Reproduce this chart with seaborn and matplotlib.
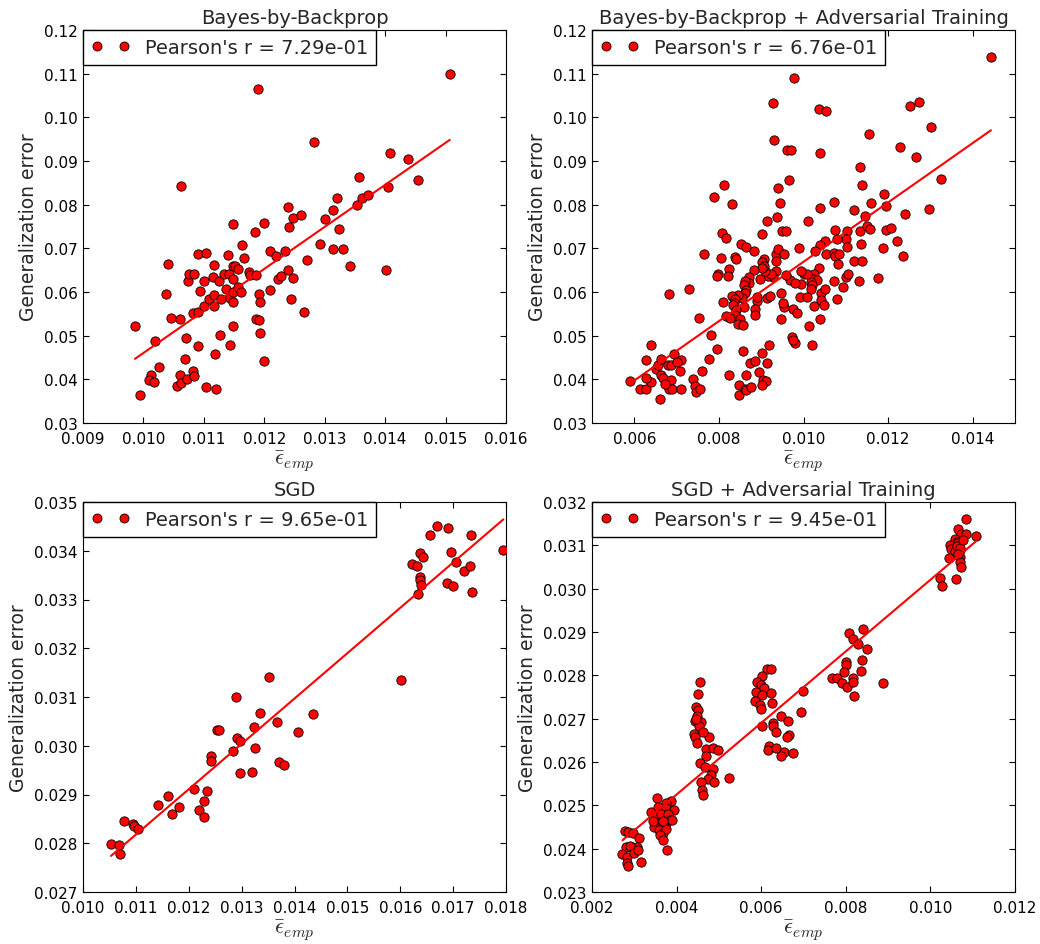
import numpy as np
import pandas as pd
import matplotlib
matplotlib.use("Agg")
import matplotlib.pyplot as plt
from matplotlib.lines import Line2D
from matplotlib.ticker import MultipleLocator, FormatStrFormatter
import seaborn as sns

# ---------------- data ----------------
titles = ["Bayes-by-Backprop", "Bayes-by-Backprop + Adversarial Training",
          "SGD", "SGD + Adversarial Training"]
pearson_labels = ["Pearson's r = 7.29e-01", "Pearson's r = 6.76e-01",
                  "Pearson's r = 9.65e-01", "Pearson's r = 9.45e-01"]

bbb_points = [
    (0.00986, 0.0523), (0.00994, 0.0363), (0.01019, 0.0487), (0.01012, 0.0411), (0.01010, 0.0399),
    (0.01017, 0.0394), (0.01025, 0.0428), (0.01038, 0.0596), (0.01041, 0.0664), (0.01045, 0.0541),
    (0.01061, 0.0539), (0.01062, 0.0842), (0.01056, 0.0384), (0.01061, 0.0409), (0.01063, 0.0392),
    (0.01069, 0.0447), (0.01070, 0.0495), (0.01072, 0.0401), (0.01073, 0.0625), (0.01075, 0.0641),
    (0.01082, 0.0419), (0.01083, 0.0407), (0.01082, 0.0553), (0.01084, 0.0642), (0.01091, 0.0688),
    (0.01091, 0.0476), (0.01091, 0.0555), (0.01094, 0.0603), (0.01100, 0.0567), (0.01100, 0.0625),
    (0.01103, 0.0690), (0.01103, 0.0382), (0.01109, 0.0584), (0.01115, 0.0635), (0.01116, 0.0661),
    (0.01116, 0.0594), (0.01116, 0.0567), (0.01118, 0.0457), (0.01120, 0.0377), (0.01125, 0.0626),
    (0.01127, 0.0501), (0.01129, 0.0583), (0.01134, 0.0641), (0.01137, 0.0607), (0.01140, 0.0684),
    (0.01141, 0.0641), (0.01143, 0.0478), (0.01143, 0.0587), (0.01148, 0.0578), (0.01148, 0.0522),
    (0.01149, 0.0756), (0.01149, 0.0629), (0.01149, 0.0600), (0.01148, 0.0659), (0.01152, 0.0659),
    (0.01157, 0.0652), (0.01157, 0.0612), (0.01161, 0.0600), (0.01163, 0.0707), (0.01167, 0.0677),
    (0.01175, 0.0646), (0.01177, 0.0639), (0.01186, 0.0638), (0.01185, 0.0738), (0.01187, 0.0538),
    (0.01192, 0.0537), (0.01189, 0.1066), (0.01192, 0.0595), (0.01193, 0.0577), (0.01193, 0.0507),
    (0.01199, 0.0442), (0.01200, 0.0759), (0.01209, 0.0604), (0.01210, 0.0693), (0.01220, 0.0682),
    (0.01223, 0.0629), (0.01228, 0.0637), (0.01234, 0.0695), (0.01239, 0.0795), (0.01239, 0.0650),
    (0.01241, 0.0750), (0.01247, 0.0769), (0.01244, 0.0584), (0.01247, 0.0633), (0.01261, 0.0776),
    (0.01265, 0.0555), (0.01270, 0.0673), (0.01283, 0.0943), (0.01293, 0.0709), (0.01300, 0.0767),
    (0.01314, 0.0698), (0.01314, 0.0788), (0.01321, 0.0815), (0.01324, 0.0745), (0.01331, 0.0699),
    (0.01342, 0.0659), (0.01354, 0.0799), (0.01356, 0.0864), (0.01362, 0.0815), (0.01372, 0.0821),
    (0.01402, 0.0650), (0.01405, 0.0840), (0.01408, 0.0919), (0.01437, 0.0905), (0.01454, 0.0857),
    (0.01507, 0.1100),
]

bbb_adv_points = [
    (0.01443, 0.1138), (0.00978, 0.1091), (0.00929, 0.1032), (0.01037, 0.1019), (0.01053, 0.1014),
    (0.01252, 0.1027), (0.01273, 0.1034), (0.01302, 0.0978), (0.01154, 0.0962), (0.00930, 0.0949),
    (0.00962, 0.0926), (0.00970, 0.0926), (0.01040, 0.0919), (0.01228, 0.0932), (0.01266, 0.0910),
    (0.01134, 0.0886), (0.01325, 0.0858), (0.00966, 0.0857), (0.01138, 0.0844), (0.00813, 0.0844),
    (0.00939, 0.0838), (0.00789, 0.0818), (0.00832, 0.0802), (0.00945, 0.0803), (0.01072, 0.0806),
    (0.01040, 0.0792), (0.01191, 0.0825), (0.01196, 0.0797), (0.01160, 0.0803), (0.01240, 0.0779),
    (0.01296, 0.0789), (0.01120, 0.0787), (0.01145, 0.0773), (0.00938, 0.0771), (0.00914, 0.0763),
    (0.01010, 0.0763), (0.00948, 0.0739), (0.00959, 0.0739), (0.00903, 0.0732), (0.00808, 0.0734),
    (0.00817, 0.0723), (0.01075, 0.0741), (0.01103, 0.0739), (0.01133, 0.0739), (0.01151, 0.0752),
    (0.01158, 0.0744), (0.01195, 0.0743), (0.01208, 0.0747), (0.01221, 0.0716), (0.01189, 0.0700),
    (0.01235, 0.0682), (0.01136, 0.0709), (0.01101, 0.0722), (0.01079, 0.0721), (0.01050, 0.0716),
    (0.01040, 0.0708), (0.01027, 0.0695), (0.00990, 0.0700), (0.00853, 0.0709), (0.00864, 0.0704),
    (0.00883, 0.0695), (0.00764, 0.0687), (0.00804, 0.0679), (0.00837, 0.0681), (0.00840, 0.0676),
    (0.00934, 0.0688), (0.00940, 0.0699), (0.00954, 0.0687), (0.01053, 0.0688), (0.01071, 0.0690),
    (0.01075, 0.0683), (0.01083, 0.0688), (0.01103, 0.0703), (0.01119, 0.0672), (0.01138, 0.0671),
    (0.01081, 0.0665), (0.00907, 0.0676), (0.00903, 0.0669), (0.00936, 0.0671), (0.01036, 0.0655),
    (0.01026, 0.0642), (0.01023, 0.0629), (0.01031, 0.0627), (0.01017, 0.0623), (0.01020, 0.0617),
    (0.01018, 0.0606), (0.01001, 0.0642), (0.01009, 0.0641), (0.00994, 0.0649), (0.00993, 0.0618),
    (0.00991, 0.0589), (0.01009, 0.0589), (0.01024, 0.0569), (0.01041, 0.0597), (0.01042, 0.0581),
    (0.01048, 0.0571), (0.01050, 0.0607), (0.01040, 0.0538), (0.01080, 0.0584), (0.01093, 0.0611),
    (0.01071, 0.0625), (0.01100, 0.0635), (0.01105, 0.0641), (0.01131, 0.0626), (0.01175, 0.0632),
    (0.01013, 0.0521), (0.01019, 0.0479), (0.00973, 0.0497), (0.00980, 0.0483), (0.00975, 0.0489),
    (0.00976, 0.0561), (0.00984, 0.0551), (0.00953, 0.0565), (0.00952, 0.0574), (0.00947, 0.0597),
    (0.00946, 0.0539), (0.00969, 0.0627), (0.00979, 0.0620), (0.00958, 0.0639), (0.00934, 0.0647),
    (0.00929, 0.0635), (0.00916, 0.0636), (0.00922, 0.0641), (0.00910, 0.0647), (0.00907, 0.0660),
    (0.00901, 0.0655), (0.00898, 0.0630), (0.00883, 0.0650), (0.00870, 0.0635), (0.00871, 0.0620),
    (0.00862, 0.0626), (0.00859, 0.0617), (0.00863, 0.0604), (0.00861, 0.0597), (0.00855, 0.0587),
    (0.00845, 0.0593), (0.00831, 0.0591), (0.00837, 0.0585), (0.00836, 0.0575), (0.00833, 0.0570),
    (0.00859, 0.0566), (0.00840, 0.0558), (0.00837, 0.0548), (0.00849, 0.0538), (0.00845, 0.0526),
    (0.00856, 0.0525), (0.00809, 0.0577), (0.00816, 0.0545), (0.00826, 0.0541), (0.00824, 0.0652),
    (0.00822, 0.0637), (0.00799, 0.0641), (0.00795, 0.0636), (0.00889, 0.0580), (0.00886, 0.0561),
    (0.00885, 0.0548), (0.00914, 0.0587), (0.00920, 0.0590), (0.00891, 0.0589), (0.00729, 0.0607),
    (0.00683, 0.0596), (0.00752, 0.0541), (0.00781, 0.0501), (0.00777, 0.0447), (0.00796, 0.0469),
    (0.00760, 0.0418), (0.00738, 0.0401), (0.00744, 0.0384), (0.00745, 0.0372), (0.00756, 0.0378),
    (0.00825, 0.0411), (0.00857, 0.0464), (0.00864, 0.0411), (0.00873, 0.0437), (0.00885, 0.0441),
    (0.00903, 0.0460), (0.00918, 0.0478), (0.00914, 0.0437), (0.00895, 0.0416), (0.00904, 0.0398),
    (0.00911, 0.0396), (0.00901, 0.0386), (0.00848, 0.0386), (0.00848, 0.0365), (0.00862, 0.0379),
    (0.00864, 0.0376), (0.00877, 0.0382), (0.00590, 0.0397), (0.00613, 0.0377), (0.00628, 0.0377),
    (0.00639, 0.0479), (0.00628, 0.0445), (0.00639, 0.0393), (0.00628, 0.0403), (0.00661, 0.0354),
    (0.00651, 0.0424), (0.00657, 0.0432), (0.00662, 0.0447), (0.00664, 0.0411), (0.00667, 0.0402),
    (0.00680, 0.0432), (0.00687, 0.0432), (0.00693, 0.0457), (0.00710, 0.0445), (0.00701, 0.0440),
    (0.00708, 0.0418), (0.00686, 0.0399), (0.00683, 0.0379), (0.00690, 0.0379), (0.00673, 0.0390),
    (0.00711, 0.0379),
]

sgd_points = [
    (0.01053, 0.02799), (0.01069, 0.02797), (0.01070, 0.02777), (0.01077, 0.02846), (0.01094, 0.02839),
    (0.01096, 0.02835), (0.01104, 0.02829), (0.01141, 0.02879), (0.01160, 0.02896), (0.01169, 0.02860),
    (0.01182, 0.02875), (0.01210, 0.02911), (0.01219, 0.02869), (0.01228, 0.02887), (0.01228, 0.02853),
    (0.01235, 0.02908), (0.01242, 0.02978), (0.01243, 0.02968), (0.01254, 0.03032), (0.01258, 0.03033),
    (0.01284, 0.02989), (0.01289, 0.03101), (0.01291, 0.03016), (0.01296, 0.03010), (0.01296, 0.02944),
    (0.01319, 0.02946), (0.01323, 0.03038), (0.01326, 0.02996), (0.01334, 0.03067), (0.01351, 0.03142),
    (0.01367, 0.03048), (0.01370, 0.02966), (0.01381, 0.02960), (0.01406, 0.03029), (0.01435, 0.03066),
    (0.01601, 0.03134), (0.01623, 0.03373), (0.01631, 0.03368), (0.01633, 0.03312), (0.01637, 0.03346),
    (0.01638, 0.03341), (0.01639, 0.03329), (0.01638, 0.03396), (0.01643, 0.03388), (0.01657, 0.03433),
    (0.01670, 0.03451), (0.01691, 0.03447), (0.01696, 0.03397), (0.01689, 0.03334), (0.01699, 0.03327),
    (0.01706, 0.03376), (0.01721, 0.03359), (0.01732, 0.03369), (0.01734, 0.03433), (0.01736, 0.03316),
    (0.01795, 0.03401),
]

sgd_adv_points = [
    # top-right cluster
    (0.01084, 0.03160), (0.01107, 0.03122), (0.01066, 0.03137), (0.01072, 0.03127), (0.01084, 0.03127),
    (0.01059, 0.03114), (0.01063, 0.03108), (0.01047, 0.03100), (0.01049, 0.03092), (0.01066, 0.03105),
    (0.01059, 0.03087), (0.01069, 0.03089), (0.01045, 0.03070), (0.01069, 0.03072), (0.01070, 0.03062),
    (0.01072, 0.03051), (0.01023, 0.03024), (0.01028, 0.03007), (0.01061, 0.03022), (0.01064, 0.03098),
    (0.01070, 0.03095), (0.01078, 0.03112), (0.01065, 0.03080),
    # 0.008 cluster
    (0.00807, 0.02897), (0.00840, 0.02908), (0.00817, 0.02883), (0.00828, 0.02872), (0.00851, 0.02860),
    (0.00801, 0.02831), (0.00801, 0.02823), (0.00838, 0.02836), (0.00835, 0.02811), (0.00796, 0.02807),
    (0.00768, 0.02795), (0.00780, 0.02793), (0.00791, 0.02782), (0.00803, 0.02772), (0.00817, 0.02795),
    (0.00818, 0.02785), (0.00820, 0.02752), (0.00887, 0.02782),
    # 0.006 cluster
    (0.00613, 0.02814), (0.00624, 0.02815), (0.00603, 0.02799), (0.00591, 0.02784), (0.00599, 0.02777),
    (0.00606, 0.02770), (0.00588, 0.02761), (0.00602, 0.02755), (0.00622, 0.02760), (0.00585, 0.02741),
    (0.00598, 0.02732), (0.00599, 0.02723), (0.00626, 0.02737), (0.00698, 0.02763), (0.00695, 0.02716),
    (0.00603, 0.02684), (0.00647, 0.02707), (0.00627, 0.02689), (0.00628, 0.02682), (0.00663, 0.02694),
    (0.00635, 0.02669), (0.00666, 0.02663), (0.00661, 0.02657), (0.00618, 0.02637), (0.00615, 0.02628),
    (0.00636, 0.02633), (0.00653, 0.02623), (0.00647, 0.02613), (0.00674, 0.02621),
    # 0.0045 cluster
    (0.00456, 0.02785), (0.00450, 0.02756), (0.00447, 0.02728), (0.00450, 0.02720), (0.00449, 0.02707),
    (0.00444, 0.02695), (0.00450, 0.02692), (0.00458, 0.02692), (0.00452, 0.02682), (0.00442, 0.02665),
    (0.00444, 0.02657), (0.00449, 0.02643), (0.00477, 0.02657), (0.00470, 0.02631), (0.00485, 0.02633),
    (0.00498, 0.02627), (0.00470, 0.02614), (0.00456, 0.02598), (0.00468, 0.02588), (0.00487, 0.02583),
    (0.00481, 0.02571), (0.00474, 0.02560), (0.00488, 0.02553), (0.00458, 0.02553), (0.00460, 0.02536),
    (0.00462, 0.02524), (0.00525, 0.02563), (0.00446, 0.02700), (0.00462, 0.02670),
    # 0.0036 cluster
    (0.00354, 0.02516), (0.00387, 0.02511), (0.00374, 0.02505), (0.00339, 0.02485), (0.00357, 0.02497),
    (0.00375, 0.02495), (0.00395, 0.02489), (0.00348, 0.02474), (0.00363, 0.02479), (0.00380, 0.02480),
    (0.00385, 0.02467), (0.00352, 0.02457), (0.00362, 0.02453), (0.00373, 0.02450), (0.00347, 0.02450),
    (0.00358, 0.02442), (0.00367, 0.02436), (0.00375, 0.02445), (0.00361, 0.02431), (0.00368, 0.02419),
    (0.00377, 0.02396), (0.00388, 0.02467), (0.00344, 0.02465), (0.00369, 0.02465),
    # 0.0029 cluster
    (0.00278, 0.02440), (0.00286, 0.02439), (0.00297, 0.02436), (0.00312, 0.02424), (0.00281, 0.02404),
    (0.00294, 0.02405), (0.00306, 0.02404), (0.00289, 0.02407), (0.00272, 0.02387), (0.00282, 0.02381),
    (0.00300, 0.02391), (0.00283, 0.02366), (0.00286, 0.02360), (0.00317, 0.02369), (0.00308, 0.02396),
]

x_limits = [(0.009, 0.016), (0.005, 0.015), (0.010, 0.018), (0.002, 0.012)]
y_limits = [(0.03, 0.12), (0.03, 0.12), (0.027, 0.035), (0.023, 0.032)]
x_steps = [0.001, 0.002, 0.001, 0.002]
y_steps = [0.01, 0.01, 0.001, 0.001]
y_formats = ["%.2f", "%.2f", "%.3f", "%.3f"]

# ---------------- style ----------------
sns.set_style("ticks", {
    "xtick.direction": "in", "ytick.direction": "in",
    "axes.edgecolor": "black", "axes.linewidth": 1.0,
})
plt.rcParams.update({
    "font.family": ["DejaVu Sans"],
    "mathtext.fontset": "cm",
    "xtick.top": True, "ytick.right": True,
    "xtick.major.size": 4, "ytick.major.size": 4,
    "xtick.major.width": 0.8, "ytick.major.width": 0.8,
    "xtick.major.pad": 5.5, "ytick.major.pad": 4,
    "xtick.labelsize": 11, "ytick.labelsize": 11,
    "xtick.color": "black", "ytick.color": "black",
})

fig = plt.figure(figsize=(10.4, 9.45), dpi=100)
W, H = 1040.0, 945.0
positions = [
    [83 / W, 1 - 424 / H, 423 / W, 393 / H],
    [592 / W, 1 - 424 / H, 423 / W, 393 / H],
    [83 / W, 1 - 893 / H, 423 / W, 390 / H],
    [592 / W, 1 - 893 / H, 423 / W, 390 / H],
]

all_points = [bbb_points, bbb_adv_points, sgd_points, sgd_adv_points]

for i, pts in enumerate(all_points):
    ax = fig.add_axes(positions[i])
    df = pd.DataFrame(pts, columns=["emp", "gen"])
    sns.scatterplot(data=df, x="emp", y="gen", ax=ax, color="red",
                    edgecolor="black", linewidth=0.6, s=45, zorder=3, legend=False)
    sns.regplot(data=df, x="emp", y="gen", ax=ax, scatter=False, ci=None,
                truncate=True, color="red", line_kws={"lw": 1.5, "zorder": 4})
    ax.set_xlim(*x_limits[i])
    ax.set_ylim(*y_limits[i])
    ax.xaxis.set_major_locator(MultipleLocator(x_steps[i]))
    ax.yaxis.set_major_locator(MultipleLocator(y_steps[i]))
    ax.xaxis.set_major_formatter(FormatStrFormatter("%.3f"))
    ax.yaxis.set_major_formatter(FormatStrFormatter(y_formats[i]))
    ax.set_title(titles[i], fontsize=14, pad=5)
    ax.set_xlabel(r"$\bar{\epsilon}_{emp}$", fontsize=16, labelpad=2)
    ax.set_ylabel("Generalization error", fontsize=13.5)
    for sp in ax.spines.values():
        sp.set_visible(True)
        sp.set_color("black")
    handle = Line2D([], [], marker="o", ls="", mfc="red", mec="black",
                    mew=0.6, ms=6.5)
    leg = ax.legend(handles=[handle], labels=[pearson_labels[i]], loc="upper left",
                    numpoints=2, borderaxespad=0, fontsize=14, frameon=True,
                    fancybox=False, edgecolor="black", framealpha=1,
                    borderpad=0.4, handlelength=2.0, handletextpad=0.8)
    leg.get_frame().set_linewidth(1.0)
    leg.set_zorder(10)

fig.savefig("out.png", dpi=100)
